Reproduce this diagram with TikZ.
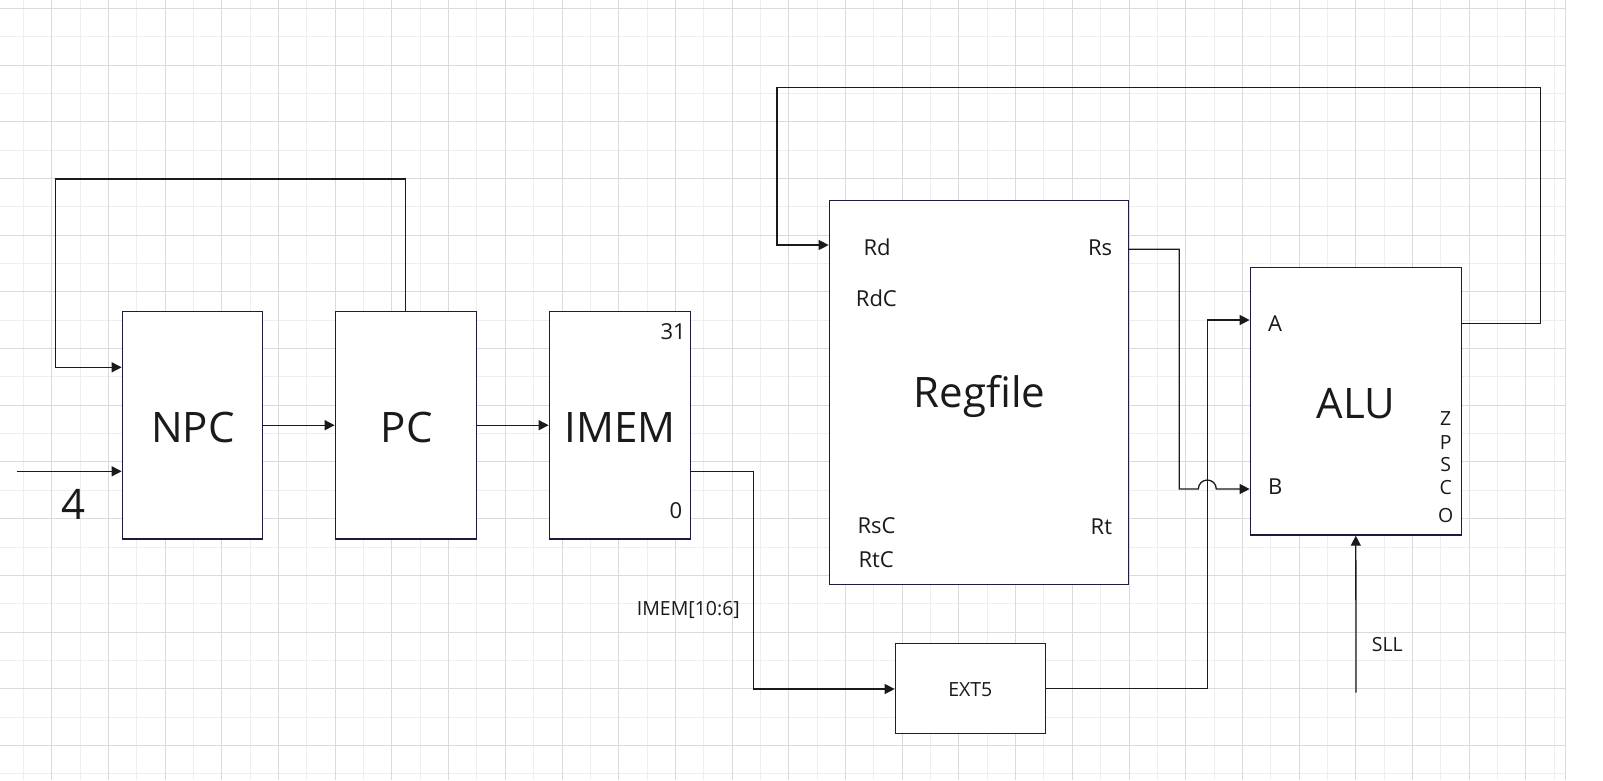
\documentclass[tikz,border=0pt]{standalone}
\usepackage{fontspec}
\setmainfont{Open Sans}
\usetikzlibrary{arrows.meta}
\definecolor{boxcol}{RGB}{28,28,64}
\definecolor{linecol}{RGB}{26,26,26}
\definecolor{gmajor}{RGB}{218,218,218}
\definecolor{gminor}{RGB}{238,238,238}
\newcommand{\bigfs}{\fontsize{42}{50}\selectfont}
\newcommand{\midfs}{\fontsize{22}{26}\selectfont}
\newcommand{\smallfs}{\fontsize{19.5}{23}\selectfont}
\tikzset{
  blk/.style={draw=boxcol, line width=1.3pt, fill=white, rectangle, inner sep=0pt},
  wire/.style={draw=linecol, line width=1.3pt},
  arr/.style={wire, -{Triangle[length=10pt,width=10pt]}},
  lbl/.style={anchor=base, inner sep=0pt, text=linecol},
  majorg/.style={draw=gmajor, line width=1pt},
  minorg/.style={draw=gminor, line width=1pt}
}
\begin{document}
\begin{tikzpicture}[x=1pt,y=-1pt]
\useasboundingbox (0,0) rectangle (1603,780);
\fill[white] (0,0) rectangle (1603,780);
% grid
\foreach \k in {0,...,27} \draw[minorg] ({23.3+56.7*\k},0) -- ({23.3+56.7*\k},780);
\foreach \k in {0,...,13} \draw[minorg] (0,{36.7+56.7*\k}) -- (1565.3,{36.7+56.7*\k});
\foreach \k in {0,...,26} \draw[majorg] ({51.7+56.7*\k},0) -- ({51.7+56.7*\k},780);
\foreach \k in {0,...,13} \draw[majorg] (0,{8.3+56.7*\k}) -- (1565.3,{8.3+56.7*\k});
\draw[majorg] (1565.3,0) -- (1565.3,780);

% blocks
\node[blk, minimum width=140pt, minimum height=227.7pt] (NPC) at (192.3,425.2) {};
\node[blk, minimum width=141pt, minimum height=227.7pt] (PC) at (405.8,425.2) {};
\node[blk, minimum width=141pt, minimum height=227.7pt] (IMEM) at (619.8,425.2) {};
\node[blk, minimum width=299.4pt, minimum height=384pt] (RF) at (979,392.3) {};
\node[blk, minimum width=211pt, minimum height=267.7pt] (ALU) at (1355.8,401.2) {};
\node[blk, minimum width=150.4pt, minimum height=90pt] (EXT) at (970.5,688.3) {};

% big labels
\node[lbl] (tNPC) at (193,442.3) {\bigfs NPC};
\node[lbl] (tPC) at (406.7,442.3) {\bigfs PC};
\node[lbl] (tIMEM) at (620.3,442.3) {\bigfs IMEM};
\node[lbl] (tRF) at (979.5,407.7) {\bigfs Regfile};
\node[lbl] (tALU) at (1355.7,418.3) {\bigfs ALU};
\node[lbl] (t4) at (74,519) {\bigfs 4};

% medium labels
\node[lbl, anchor=base east] (t31) at (686,339) {\midfs 31};
\node[lbl, anchor=base east] (t0) at (682.3,518.3) {\midfs 0};
\node[lbl, anchor=base west] (tRd) at (863.3,255) {\midfs Rd};
\node[lbl, anchor=base west] (tRdC) at (855.7,306.7) {\midfs RdC};
\node[lbl, anchor=base east] (tRs) at (1112.3,255) {\midfs Rs};
\node[lbl, anchor=base west] (tRsC) at (857.3,533.5) {\midfs RsC};
\node[lbl, anchor=base west] (tRtC) at (858.3,567.3) {\midfs RtC};
\node[lbl, anchor=base east] (tRt) at (1112.3,534) {\midfs Rt};
\node[lbl] (tA) at (1275,331.7) {\midfs A};
\node[lbl] (tB) at (1275.3,494) {\midfs B};

% small labels
\node[lbl, anchor=base west] (tIm) at (636.7,615.7) {\smallfs IMEM[10:6]};
\node[lbl] (tEXT) at (970.3,696.7) {\smallfs EXT5};
\node[lbl, anchor=base west] (tSLL) at (1371.7,651.7) {\smallfs SLL};
\node[lbl] (tZ) at (1445.7,425.7) {\smallfs Z};
\node[lbl] (tP) at (1445.7,449.3) {\smallfs P};
\node[lbl] (tS) at (1445.7,471.7) {\smallfs S};
\node[lbl] (tC) at (1445.7,494.3) {\smallfs C};
\node[lbl] (tO) at (1445.7,522.3) {\smallfs O};

% helper coordinates
\coordinate (fbA) at (406.3,179);
\coordinate (fbB) at (55.3,367.3);
\coordinate (in4) at (16.7,471.3);
\coordinate (imOut) at (690.3,471.3);
\coordinate (imX) at (753.7,689);
\coordinate (extX) at (1207.3,320);
\coordinate (rsOut) at (1128.7,249.3);
\coordinate (rsX) at (1179.3,489);
\coordinate (aluOut) at (1461.3,323.3);
\coordinate (topR) at (1540.3,87.5);
\coordinate (topL) at (777,245);
\coordinate (sllIn) at (1356,692.7);

% connectors
\draw[arr] (PC.north) -- (PC.north |- fbA) -| (fbB) -- (NPC.west |- fbB);
\draw[arr] (in4) -- (NPC.west |- in4);
\draw[arr] (NPC.east) -- (PC.west);
\draw[arr] (PC.east) -- (IMEM.west);
\draw[arr] (imOut) -| (imX) -- (EXT.west |- imX);
\draw[arr] (EXT.east) -| (extX) -- (ALU.west |- extX);
\draw[arr] (rsOut) -| (rsX) -- ([xshift=-9pt]extX |- rsX) arc[start angle=180, end angle=0, radius=9pt] -- (ALU.west |- rsX);
\draw[arr] (aluOut) -| (topR) -| (topL) -- (RF.west |- topL);
\draw[arr] (sllIn) -- (ALU.south);
\end{tikzpicture}
\end{document}
